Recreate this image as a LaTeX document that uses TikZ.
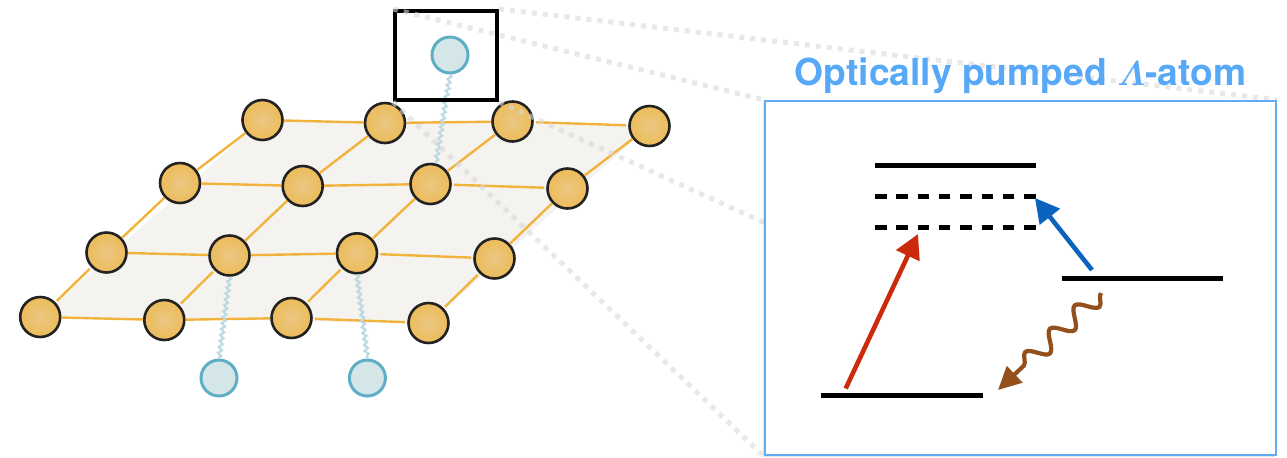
\documentclass[tikz,border=0pt]{standalone}
\usepackage{amsmath}
\usepackage{fontspec}
\newfontfamily\headfont{TeX Gyre Heros}
\usetikzlibrary{arrows.meta, positioning, calc, shadows, decorations.pathmorphing}

\definecolor{inkcolor}{HTML}{222222}
\definecolor{sitefill}{HTML}{EDBC5A}
\definecolor{sitelight}{HTML}{EAC783}
\definecolor{bondcolor}{HTML}{F2B33C}
\definecolor{planefill}{HTML}{F4F3F0}
\definecolor{atomfill}{HTML}{D5E6E8}
\definecolor{atomedge}{HTML}{5EAEC5}
\definecolor{tethercolor}{HTML}{BDDAE2}
\definecolor{conecolor}{HTML}{D8D8D8}
\definecolor{panelblue}{HTML}{62ACF2}
\definecolor{titleblue}{HTML}{57A8F6}
\definecolor{pumpred}{HTML}{CC2A0C}
\definecolor{pumpblue}{HTML}{0A64BE}
\definecolor{decaybrown}{HTML}{93501C}

\pgfdeclarelayer{plane}
\pgfdeclarelayer{inset}
\pgfsetlayers{plane,main,inset}

\begin{document}
\begin{tikzpicture}[
  x=0.5pt, y=-0.5pt,
  >=Triangle,
]

\tikzset{
  site/.style={circle, draw=inkcolor, line width=1.3pt, inner color=sitelight,
    outer color=sitefill, minimum size=20pt, inner sep=0pt},
  atom/.style={circle, draw=atomedge, fill=atomfill, line width=1.5pt,
    minimum size=18pt, inner sep=0pt},
  bond/.style={bondcolor, line width=1.2pt, shorten <=1pt, shorten >=1pt},
  tether/.style={tethercolor, line width=1.1pt, decorate,
    decoration={snake, amplitude=0.9pt, segment length=3pt}},
  zoomframe/.style={draw=black, line width=2pt, minimum width=51pt,
    minimum height=44.5pt, inner sep=0pt},
  coneline/.style={conecolor, opacity=0.6, line width=2.5pt,
    dash pattern=on 2.5pt off 3pt},
  panel/.style={draw=panelblue, fill=white, line width=1.2pt, minimum width=255.5pt,
    minimum height=177pt, inner sep=0pt,
    drop shadow={shadow xshift=-1.2pt, shadow yshift=-1.2pt, opacity=0.2}},
  paneltitle/.style={text=titleblue, inner sep=0pt,
    font=\headfont\bfseries\fontsize{18.6}{21}\selectfont},
  level/.style={black, line width=2.5pt},
  virtual/.style={level, dash pattern=on 5.75pt off 4.9pt},
  pump/.style={line width=2.3pt, -{Triangle[length=12pt, width=12.5pt]}},
  decay/.style={decaybrown, line width=2.1pt, -{Triangle[length=11.5pt, width=11pt]},
    decorate, decoration={snake, amplitude=4.5pt, segment length=17pt, post length=11pt}},
}

\useasboundingbox (0,0) rectangle (1287,457);

% ---------------------------------------------------------------
% Inset: three-level scheme of the pumped atom
% ---------------------------------------------------------------
\begin{pgfonlayer}{inset}
  \node[panel] (panel) at (1020.5,278) {};
  \node[paneltitle, above=3pt of panel] (title)
    {Optically pumped {\boldmath$\varLambda$}-atom};

  % levels
  \draw[level]   (875,165)   -- (1036,165);
  \draw[virtual] (875,196)   -- (1036,196);
  \draw[virtual] (875,227.5) -- (1036,227.5);
  \draw[level]   (1062,278)  -- (1223,278);
  \draw[level]   (820.5,395) -- (982.5,395);

  % transitions
  \coordinate (redtail)    at (845.7,388.5);
  \coordinate (redtip)     at (918,234);
  \coordinate (bluetail)   at (1092,270);
  \coordinate (bluetip)    at (1035,198);
  \coordinate (decaytail)  at (1101,293);
  \coordinate (decaytip)   at (998,390);

  \draw[pump, pumpred]  (redtail)  -- (redtip);
  \draw[pump, pumpblue] (bluetail) -- (bluetip);
  \draw[decay]          (decaytail) -- (decaytip);
\end{pgfonlayer}

% ---------------------------------------------------------------
% Lattice sites, back row (s1x) to front row (s4x)
% ---------------------------------------------------------------
\node[site] (s11) at (262.5,120) {};
\node[site] (s12) at (385,123) {};
\node[site] (s13) at (512.5,121.5) {};
\node[site] (s14) at (649.5,126) {};

\node[site] (s21) at (180,183) {};
\node[site] (s22) at (302.7,186) {};
\node[site] (s23) at (430.5,184) {};
\node[site] (s24) at (567.5,188.5) {};

\node[site] (s31) at (106.5,252.5) {};
\node[site] (s32) at (229.5,255.5) {};
\node[site] (s33) at (357,253.3) {};
\node[site] (s34) at (494.5,258.5) {};

\node[site] (s41) at (40.2,317) {};
\node[site] (s42) at (164.3,320) {};
\node[site] (s43) at (291.5,318) {};
\node[site] (s44) at (428.5,323) {};

\begin{pgfonlayer}{plane}
  \fill[planefill] (s41.center) -- (s44.center) -- (s14.center) -- (s11.center) -- cycle;
\end{pgfonlayer}

% bonds along rows
\draw[bond] (s11) -- (s12) -- (s13) -- (s14);
\draw[bond] (s21) -- (s22) -- (s23) -- (s24);
\draw[bond] (s31) -- (s32) -- (s33) -- (s34);
\draw[bond] (s41) -- (s42) -- (s43) -- (s44);
% bonds along columns
\draw[bond] (s11) -- (s21) -- (s31) -- (s41);
\draw[bond] (s12) -- (s22) -- (s32) -- (s42);
\draw[bond] (s13) -- (s23) -- (s33) -- (s43);
\draw[bond] (s14) -- (s24) -- (s34) -- (s44);

% ---------------------------------------------------------------
% Auxiliary atoms tethered to the lattice
% ---------------------------------------------------------------
\node[atom] (atomtop)   at (450,55) {};
\node[atom] (atomleft)  at (219,378) {};
\node[atom] (atomright) at (367.4,378) {};

\draw[tether] (atomtop.south) -- (s23.75);
\draw[tether] (s32.south) -- (atomleft.north);
\draw[tether] (s33.south) -- (atomright.north);

\node[zoomframe] (zoombox) at (446,55.5) {};

% zoom cone from the frame to the inset
\draw[coneline] (zoombox.north west) -- (panel.north west);
\draw[coneline] (zoombox.north east) -- (panel.north east);
\draw[coneline] (zoombox.south west) -- (panel.south west);
\draw[coneline] (zoombox.south east) -- (panel.south east);

\end{tikzpicture}
\end{document}
